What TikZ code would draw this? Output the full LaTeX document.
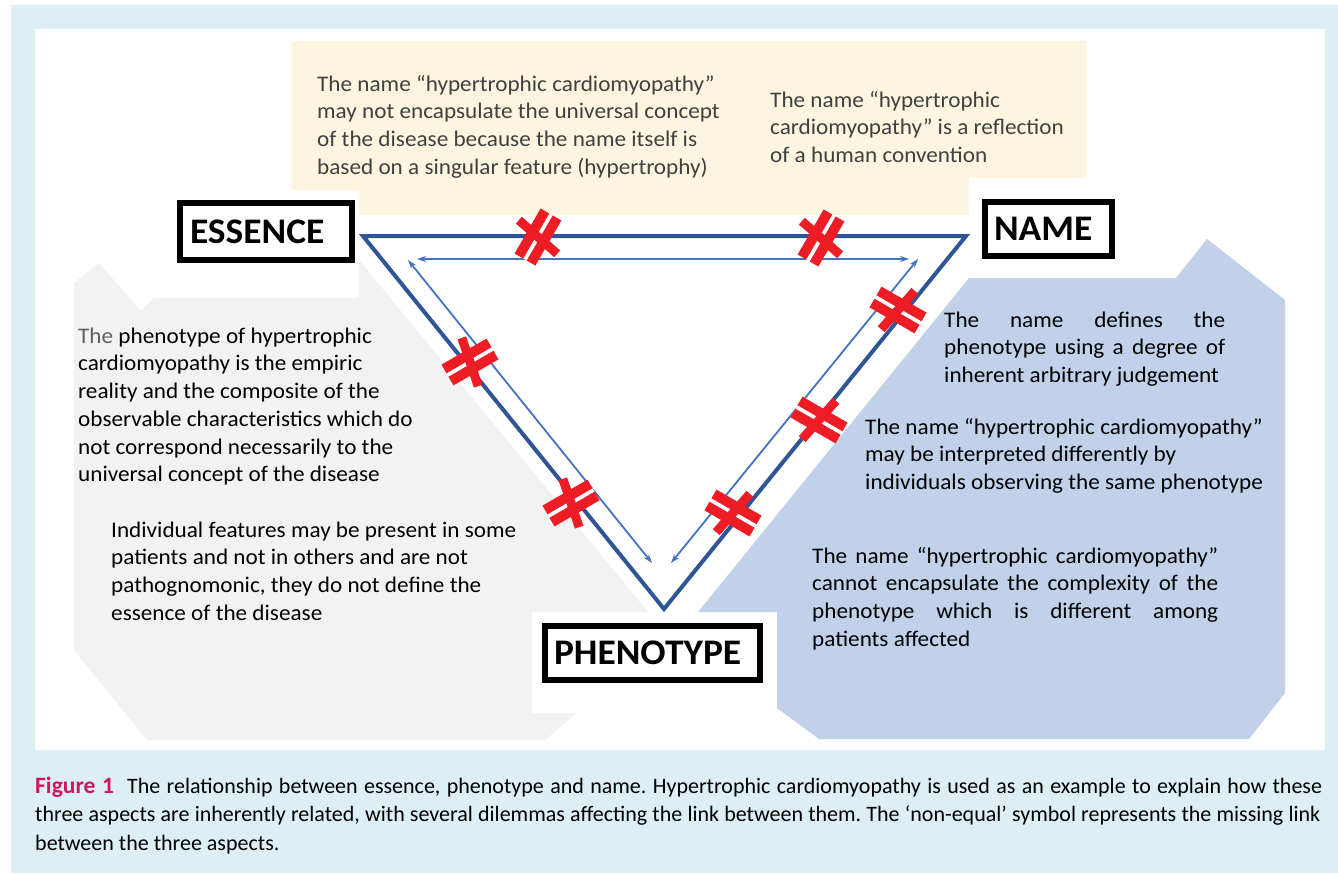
\documentclass[tikz,border=0pt]{standalone}
\usepackage{fontspec}
\setmainfont{Carlito}[FakeStretch=1.04]
\newfontfamily\capfont{Carlito}
\usetikzlibrary{arrows.meta}
\frenchspacing
\definecolor{bgblue}{HTML}{DDEEF4}
\definecolor{yel}{HTML}{FDF5DF}
\definecolor{gry}{HTML}{F2F2F2}
\definecolor{blu}{HTML}{C1D1E9}
\definecolor{tri}{HTML}{2F5597}
\definecolor{arr}{HTML}{4472C4}
\definecolor{neqred}{HTML}{EE1C25}
\definecolor{figred}{HTML}{D1175B}
\definecolor{ytext}{HTML}{404040}
\definecolor{thegray}{HTML}{5F5F5F}
\tikzset{
  pics/neqmark/.style={code={
    \draw[white, line width=5pt] (-26,0) -- (26,0);
    \draw[neqred, line width=10pt] (-26,-7) -- (26,-7) (-26,7) -- (26,7);
    \draw[neqred, line width=9pt] (-5,25) -- (5,-25);
  }}
}
\begin{document}
\begin{tikzpicture}[x=1pt,y=-1pt,
  trileg/.style={draw=tri, line width=4pt, line join=miter},
  link/.style={draw=arr, line width=1.8pt, {Stealth[length=9pt,width=6pt]}-{Stealth[length=9pt,width=6pt]}},
  lab/.style={draw=black, line width=6pt, font=\fontsize{36}{40}\selectfont\bfseries, align=left, inner ysep=0pt},
  txt/.style={font=\fontsize{22.3}{27.7}\selectfont, inner sep=0pt, anchor=north west, align=left},
  captxt/.style={font=\capfont\fontsize{22}{28.5}\selectfont, inner sep=0pt, anchor=north west, align=left}
]
\useasboundingbox (0,0) rectangle (1338,873);
% backgrounds
\fill[bgblue] (11,5) rectangle (1338,873);
\fill[white] (35,29) rectangle (1325,750);
\fill[yel] (291,41) rectangle (1086,215);
\fill[gry] (74,283) -- (99,263) -- (141,311) -- (154,298) -- (359,298) -- (359,260) -- (648,612) -- (532,612) -- (532,713) -- (577,713) -- (545,740) -- (147,740) -- (74,650) -- cycle;
\fill[blu] (698,612) -- (969,278) -- (1176,278) -- (1207,239) -- (1285,300) -- (1285,693) -- (1249,739) -- (819,739) -- (777,708) -- (777,612) -- cycle;
\fill[white] (154,190) rectangle (359,298);
\fill[white] (969,178) rectangle (1176,278);

% triangle
\coordinate (E) at (363,236);
\coordinate (N) at (966,236);
\coordinate (P) at (664,609);
\draw[trileg] (E) -- (N) -- (P) -- cycle;

% inner links
\coordinate (t1) at (417,259);
\coordinate (t2) at (909,259);
\coordinate (l1) at (408,260);
\coordinate (l2) at (652,563);
\coordinate (r1) at (918,259);
\coordinate (r2) at (671,563);
\draw[link] (t1) -- (t2);
\draw[link] (l1) -- (l2);
\draw[link] (r1) -- (r2);

% non-equal marks
\pic[rotate=60] (m1) at (538,237) {neqmark};
\pic[rotate=60] (m2) at (821,238) {neqmark};
\pic[rotate=30] (m3) at (470,362) {neqmark};
\pic[rotate=30] (m4) at (571,503) {neqmark};
\pic[rotate=-30] (m5) at (898,310) {neqmark};
\pic[rotate=-30] (m6) at (819,420) {neqmark};
\pic[rotate=-30] (m7) at (733,513) {neqmark};

% labels
\node[lab, text width=152pt, inner xsep=10pt, minimum height=57pt] (ess) at (266,231.5) {ESSENCE};
\node[lab, text width=109pt, inner xsep=9pt, minimum height=54pt] (nam) at (1048.5,229) {NAME};
\node[lab, text width=197pt, inner xsep=9pt, minimum height=54pt] (phe) at (652.5,653) {PHENOTYPE};

% texts
\node[txt, text=ytext] (y1) at (317,74) {\rule{0pt}{17pt}The name “hypertrophic cardiomyopathy”\\may not encapsulate the universal concept\\of the disease because the name itself is\\based on a singular feature (hypertrophy)};
\node[txt, text=ytext] (y2) at (770,90) {\rule{0pt}{17pt}The name “hypertrophic\\cardiomyopathy” is a reflection\\of a human convention};
\node[txt] (g1) at (78,326) {\rule{0pt}{17pt}\textcolor{thegray}{The} phenotype of hypertrophic\\cardiomyopathy is the empiric\\reality and the composite of the\\observable characteristics which do\\not correspond necessarily to the\\universal concept of the disease};
\node[txt] (g2) at (111,520) {\rule{0pt}{17pt}Individual features may be present in some\\patients and not in others and are not\\pathognomonic, they do not define the\\essence of the disease};
\node[txt] (b1) at (944,310) {\rule{0pt}{17pt}\makebox[281pt][s]{The name defines the}\\\makebox[281pt][s]{phenotype using a degree of}\\inherent arbitrary judgement};
\node[txt] (b2) at (865,417) {\rule{0pt}{17pt}The name “hypertrophic cardiomyopathy”\\may be interpreted differently by\\individuals observing the same phenotype};
\node[txt] (b3) at (812,546) {\rule{0pt}{17pt}\makebox[406pt][s]{The name “hypertrophic cardiomyopathy”}\\\makebox[406pt][s]{cannot encapsulate the complexity of the}\\\makebox[406pt][s]{phenotype which is different among}\\patients affected};

% caption
\node[captxt] (cap) at (35,776) {\rule{0pt}{17pt}\makebox[1287pt][s]{\textcolor{figred}{\bfseries\fontsize{23.5}{28.5}\selectfont Figure 1}\hspace{0.3em} The relationship between essence, phenotype and name. Hypertrophic cardiomyopathy is used as an example to explain how these}\\\makebox[1285pt][s]{three aspects are inherently related, with several dilemmas affecting the link between them. The ‘non-equal’ symbol represents the missing link}\\between the three aspects.};
\end{tikzpicture}
\end{document}
